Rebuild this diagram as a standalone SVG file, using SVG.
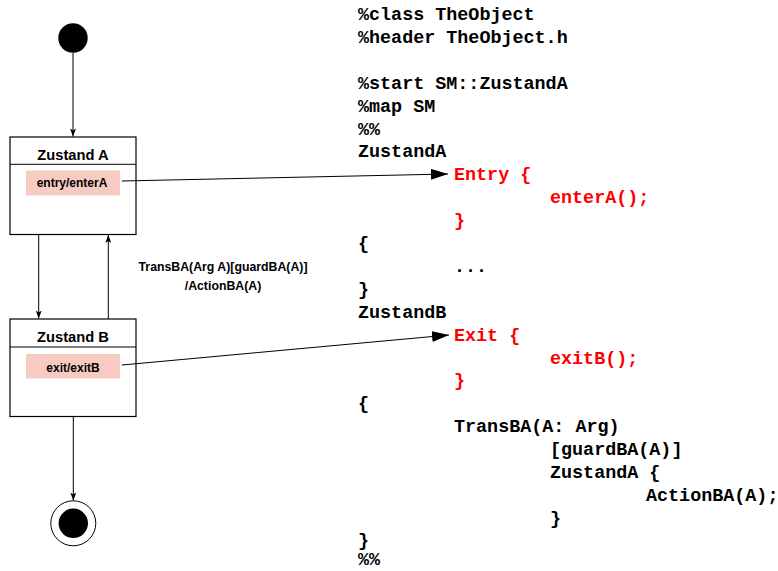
<svg xmlns="http://www.w3.org/2000/svg" width="778" height="571" viewBox="0 0 778 571">
<defs>
<marker id="sm" viewBox="0 0 8 6" refX="8" refY="3" markerWidth="8" markerHeight="6" markerUnits="userSpaceOnUse" orient="auto"><path d="M0,0 L8,3 L0,6 L2,3 Z" fill="#000"/></marker>
<marker id="big" viewBox="0 0 17 11" refX="17" refY="5.5" markerWidth="17" markerHeight="11" markerUnits="userSpaceOnUse" orient="auto"><path d="M0,0 L17,5.5 L0,11 Z" fill="#000"/></marker>
</defs>
<style>
.box{fill:#fff;stroke:#000;stroke-width:1.2}
.act{fill:#f7cbc2;stroke:none}
.t{font-family:"Liberation Sans",Arial,sans-serif;font-weight:bold;fill:#000}
.c{font-family:"Liberation Mono","Courier New",monospace;font-weight:bold;font-size:18.4px;fill:#000}
.r{fill:#f00}
.ln{stroke:#000;stroke-width:1;fill:none}
</style>
<rect width="778" height="571" fill="#fff"/>
<g id="start"><circle cx="73" cy="38" r="14.7" fill="#000"/></g>
<g id="zustandA">
<rect class="box" x="10" y="137" width="126" height="97.5"/>
<line class="ln" x1="10" y1="164.3" x2="136" y2="164.3"/>
<text class="t" x="73" y="159.5" font-size="14.7" text-anchor="middle">Zustand A</text>
<rect class="act" x="26" y="170.5" width="94" height="25"/>
<text class="t" x="72" y="187" font-size="12" text-anchor="middle">entry/enterA</text>
</g>
<g id="zustandB">
<rect class="box" x="10" y="319" width="126" height="97.5"/>
<line class="ln" x1="10" y1="347" x2="136" y2="347"/>
<text class="t" x="73" y="342" font-size="14.7" text-anchor="middle">Zustand B</text>
<rect class="act" x="26" y="354" width="94" height="24.5"/>
<text class="t" x="73" y="372" font-size="12" text-anchor="middle">exit/exitB</text>
</g>
<g id="final"><circle cx="73.3" cy="523.3" r="22.5" fill="#fff" stroke="#000" stroke-width="1"/><circle cx="73.3" cy="523.3" r="14.7" fill="#000"/></g>
<g id="connectors">
<line class="ln" x1="73" y1="52.7" x2="73" y2="136.5" marker-end="url(#sm)"/>
<line class="ln" x1="38.7" y1="234.5" x2="38.7" y2="318.5" marker-end="url(#sm)"/>
<line class="ln" x1="108.3" y1="319" x2="108.3" y2="235" marker-end="url(#sm)"/>
<line class="ln" x1="73.3" y1="416.7" x2="73.3" y2="500.5" marker-end="url(#sm)"/>
<line class="ln" x1="122" y1="181" x2="448" y2="174" marker-end="url(#big)"/>
<line class="ln" x1="122" y1="365" x2="449" y2="335" marker-end="url(#big)"/>
<text class="t" x="223" y="271" font-size="12.3" text-anchor="middle">TransBA(Arg A)[guardBA(A)]</text>
<text class="t" x="223" y="290" font-size="12.3" text-anchor="middle">/ActionBA(A)</text>
</g>
<g id="code">
<text class="c" x="358" y="20">%class TheObject</text>
<text class="c" x="358" y="42.9">%header TheObject.h</text>
<text class="c" x="358" y="88.7">%start SM::ZustandA</text>
<text class="c" x="358" y="111.6">%map SM</text>
<text class="c" x="358" y="134.5">%%</text>
<text class="c" x="358" y="157.4">ZustandA</text>
<text class="c r" x="454" y="180.3">Entry {</text>
<text class="c r" x="550" y="203.2">enterA();</text>
<text class="c r" x="454" y="226.1">}</text>
<text class="c" x="358" y="249">{</text>
<text class="c" x="454" y="271.9">...</text>
<text class="c" x="358" y="294.8">}</text>
<text class="c" x="358" y="317.7">ZustandB</text>
<text class="c r" x="454" y="340.6">Exit {</text>
<text class="c r" x="550" y="363.5">exitB();</text>
<text class="c r" x="454" y="386.4">}</text>
<text class="c" x="358" y="409.3">{</text>
<text class="c" x="454" y="432.2">TransBA(A: Arg)</text>
<text class="c" x="550" y="455.1">[guardBA(A)]</text>
<text class="c" x="550" y="478">ZustandA {</text>
<text class="c" x="646" y="500.9">ActionBA(A);</text>
<text class="c" x="550" y="523.8">}</text>
<text class="c" x="358" y="546">}</text>
<text class="c" x="358" y="565">%%</text>
</g>
</svg>
